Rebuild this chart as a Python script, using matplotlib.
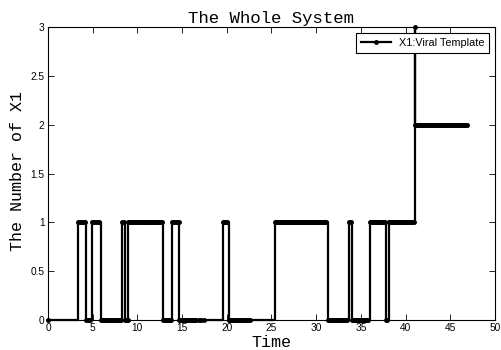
import matplotlib
matplotlib.use("Agg")
import matplotlib.pyplot as plt

# X1 copy number after each reaction event, grouped into runs at one level
levels = [0, 1, 0, 1, 0, 1, 0, 1, 0, 1, 0, 1, 0, 1, 0, 1, 0, 1, 0, 1, 3, 2]
event_times = [
    [0.0],
    [3.4, 3.55, 3.7, 3.85, 4.0, 4.15],
    [4.3, 4.45, 4.6, 4.75],
    [4.9, 5.05, 5.2, 5.4, 5.55, 5.75],
    [5.9, 6.0, 6.1, 6.2, 6.35, 6.45, 6.55, 6.7, 6.8, 6.9, 7.05, 7.15, 7.3,
     7.4, 7.5, 7.65, 7.75, 7.9, 8.0, 8.1, 8.2],
    [8.3, 8.45],
    [8.6, 8.7, 8.8, 8.9],
    [9.0, 9.1, 9.2, 9.3, 9.45, 9.55, 9.65, 9.8, 9.9, 10.0, 10.15, 10.25,
     10.35, 10.5, 10.6, 10.7, 10.85, 10.95, 11.1, 11.2, 11.3, 11.45, 11.55,
     11.65, 11.8, 11.9, 12.0, 12.15, 12.25, 12.4, 12.5, 12.6, 12.75],
    [12.9, 13.0, 13.1, 13.2, 13.3, 13.4, 13.5, 13.6, 13.7, 13.8],
    [13.9, 14.0, 14.15, 14.3, 14.45, 14.6],
    [14.7, 14.8, 14.9, 15.0, 15.1, 15.25, 15.35, 15.5, 15.6, 15.7, 15.85,
     15.95, 16.1, 16.2, 16.35, 16.5, 16.6, 16.9, 17.1, 17.4],
    [19.6, 19.7, 19.85, 19.95, 20.05],
    [20.2, 20.3, 20.4, 20.5, 20.6, 20.7, 20.85, 20.95, 21.05, 21.15, 21.3,
     21.4, 21.5, 21.6, 21.75, 21.85, 21.95, 22.1, 22.2, 22.35, 22.5, 22.6],
    [25.4, 25.5, 25.6, 25.75, 25.85, 25.95, 26.05, 26.2, 26.3, 26.4, 26.5,
     26.65, 26.75, 26.85, 26.95, 27.1, 27.2, 27.3, 27.4, 27.55, 27.65, 27.75,
     27.85, 28.0, 28.1, 28.2, 28.3, 28.45, 28.55, 28.65, 28.75, 28.9, 29.0,
     29.1, 29.2, 29.35, 29.45, 29.55, 29.65, 29.8, 29.9, 30.0, 30.1, 30.25,
     30.35, 30.45, 30.55, 30.7, 30.8, 30.9, 31.0, 31.15],
    [31.3, 31.4, 31.5, 31.6, 31.75, 31.85, 31.95, 32.05, 32.2, 32.3, 32.4,
     32.5, 32.65, 32.75, 32.85, 32.95, 33.1, 33.2, 33.3, 33.45],
    [33.7, 33.85],
    [34.0, 34.1, 34.2, 34.35, 34.45, 34.55, 34.65, 34.8, 34.9, 35.0, 35.1,
     35.25, 35.35, 35.45, 35.6, 35.7, 35.85],
    [36.0, 36.1, 36.2, 36.35, 36.45, 36.55, 36.7, 36.8, 36.9, 37.05, 37.15,
     37.25, 37.4, 37.5, 37.65],
    [37.8, 37.95],
    [38.1, 38.2, 38.35, 38.45, 38.55, 38.7, 38.8, 38.9, 39.05, 39.15, 39.25,
     39.4, 39.5, 39.6, 39.75, 39.85, 39.95, 40.1, 40.2, 40.3, 40.45, 40.55,
     40.65, 40.8, 40.9],
    [41.0],
    [41.05, 41.15, 41.25, 41.4, 41.5, 41.6, 41.75, 41.85, 41.95, 42.1, 42.2,
     42.3, 42.45, 42.55, 42.65, 42.8, 42.9, 43.0, 43.15, 43.25, 43.35, 43.5,
     43.6, 43.7, 43.85, 43.95, 44.05, 44.2, 44.3, 44.4, 44.55, 44.65, 44.75,
     44.9, 45.0, 45.1, 45.25, 45.35, 45.45, 45.6, 45.7, 45.8, 45.95, 46.05,
     46.15, 46.3, 46.4, 46.5, 46.65, 46.75, 46.85],
]

x_ticks = [0, 5, 10, 15, 20, 25, 30, 35, 40, 45, 50]
y_ticks = [0, 0.5, 1, 1.5, 2, 2.5, 3]
y_tick_labels = ["0", "0.5", "1", "1.5", "2", "2.5", "3"]

t = []
x1 = []
for level, times in zip(levels, event_times):
    t.extend(times)
    x1.extend([level] * len(times))

plt.rcParams["font.family"] = "Liberation Sans"

fig = plt.figure(figsize=(5.02, 3.5), dpi=100)
ax = fig.add_axes([0.0956, 0.0857, 0.8904, 0.8371])

ax.step(t, x1, where="post", color="black", linewidth=1.6,
        marker=".", markersize=5, label="X1:Viral Template", clip_on=False)

ax.set_xlim(0, 50)
ax.set_ylim(0, 3)
ax.set_xticks(x_ticks)
ax.set_yticks(y_ticks)
ax.set_yticklabels(y_tick_labels)
ax.tick_params(direction="in", top=True, right=True, length=4,
               width=0.6, labelsize=7.3, pad=2.5)
for spine in ax.spines.values():
    spine.set_linewidth(0.8)

mono = "Liberation Mono"
ax.set_title("The Whole System", fontfamily=mono, fontsize=12.5, pad=3)
ax.set_xlabel("Time", fontfamily=mono, fontsize=12, labelpad=1)
ax.set_ylabel("The Number of X1", fontfamily=mono, fontsize=12)
ax.yaxis.set_label_coords(-0.052, 0.51, transform=ax.transAxes)

leg = ax.legend(loc="upper right", bbox_to_anchor=(0.987, 0.98),
                fontsize=7.8, handlelength=2.8, handletextpad=0.7,
                borderaxespad=0.0, borderpad=0.45, fancybox=False,
                framealpha=1, edgecolor="black")
leg.get_frame().set_linewidth(0.8)

fig.savefig("out.png", dpi=100)
